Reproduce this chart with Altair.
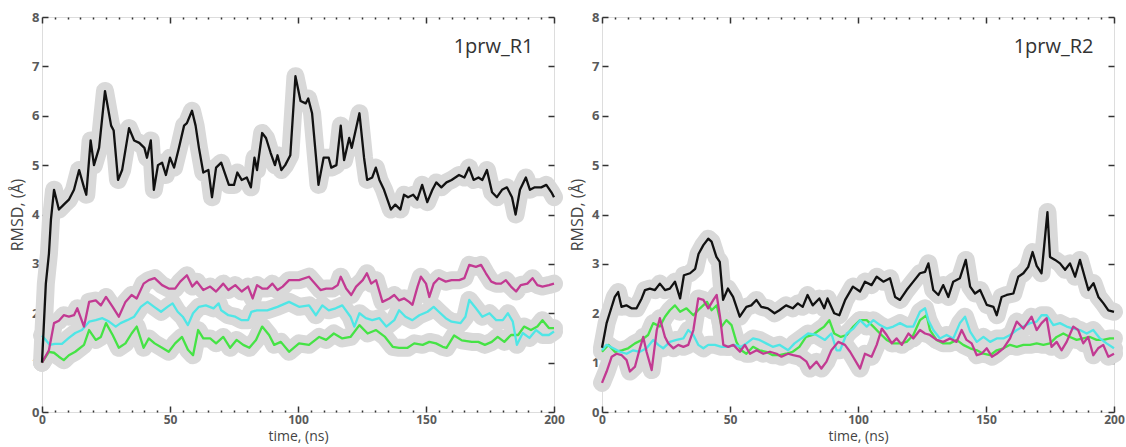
import altair as alt
import pandas as pd

# ---------------- data ----------------
# Panel 1prw_R1
r1_black_t = [0, 1.5, 2.7, 3.5, 4.7, 6.6, 8.5, 10.5, 12.5, 14.5, 16.4, 17.3, 19, 20.3, 22.3, 24.6, 27, 28, 29.7, 31.3,
              34, 36, 38, 40, 41, 42.5, 43.7, 45.3, 46.9, 48.4, 50, 51.6, 53.5, 55.5, 56.6, 58.6, 60, 61.3, 63, 65,
              66.4, 68, 70, 73, 75, 76.3, 78, 80, 81.6, 83, 84, 86, 87.5, 89.3, 91, 92, 93.5, 95, 97, 99,
              101, 103, 104, 105.5, 108, 110, 112, 113, 115, 116.7, 118, 120, 121, 124, 125.8, 127, 129, 130.4, 131.8, 133.6,
              136.3, 138, 140, 141.4, 143, 145, 146.6, 148.5, 150.5, 152.5, 154, 156, 158, 160, 162.9, 165, 166.8, 168.6, 170.5, 172,
              173.8, 175.8, 177.7, 179.7, 181.6, 183.6, 185, 186.7, 189, 190.6, 192.5, 195, 197, 199, 200]
r1_black_v = [1.0, 2.6, 3.2, 3.9, 4.5, 4.1, 4.2, 4.3, 4.5, 4.9, 4.55, 4.4, 5.5, 5.0, 5.35, 6.5, 5.8, 5.7, 4.7, 4.9,
              5.75, 5.5, 5.45, 5.35, 5.15, 5.5, 4.5, 5.0, 5.05, 4.8, 5.15, 4.95, 5.35, 5.8, 5.85, 6.1, 5.8, 5.35, 4.85, 4.9,
              4.35, 4.95, 5.05, 4.6, 4.6, 4.85, 4.7, 4.75, 4.55, 5.15, 4.9, 5.65, 5.55, 5.25, 5.0, 5.2, 4.9, 5.0, 5.2, 6.8,
              6.3, 6.25, 6.35, 6.05, 4.6, 5.15, 5.15, 4.95, 5.0, 5.8, 5.1, 5.55, 5.35, 6.05, 5.15, 4.7, 4.75, 4.95, 4.7, 4.5,
              4.1, 4.2, 4.1, 4.4, 4.35, 4.4, 4.3, 4.6, 4.25, 4.5, 4.65, 4.55, 4.65, 4.7, 4.8, 4.75, 4.95, 4.7, 4.75, 4.7,
              4.9, 4.45, 4.35, 4.5, 4.55, 4.35, 4.0, 4.5, 4.75, 4.5, 4.55, 4.55, 4.6, 4.45, 4.35]

r1_mag_t = [0, 2.7, 4.7, 6.6, 8.5, 10.5, 12.5, 13.8, 16.4, 18.4, 21, 23, 25, 27.6, 30, 32.6, 35, 37, 39.7, 41.7,
            44, 46.9, 49.5, 52, 54, 56.6, 58.7, 60.5, 63, 65.7, 68, 70.8, 72.8, 75.5, 78, 80.5, 82.3, 84, 86, 88,
            90, 92, 94, 96.5, 100.4, 104.3, 106, 108.8, 111, 113.5, 115.5, 116.7, 118.8, 120.8, 122.7, 125.3, 126.9, 128.6, 130.5, 133,
            135.7, 137.6, 139.5, 141.5, 143.4, 144.7, 146.7, 148, 150, 151.3, 153, 155, 157.7, 160, 163, 165, 166.9, 169.5, 171.5, 173.4,
            175.5, 177.4, 179.3, 181.2, 183.2, 185.2, 187, 189.6, 191.6, 193.5, 195.5, 198, 200]
r1_mag_v = [1.0, 1.25, 1.8, 1.85, 1.96, 1.93, 1.96, 2.1, 1.73, 2.23, 2.26, 2.16, 2.33, 2.13, 1.93, 2.23, 2.37, 2.3, 2.6, 2.67,
            2.71, 2.57, 2.5, 2.5, 2.64, 2.77, 2.54, 2.64, 2.47, 2.54, 2.44, 2.6, 2.47, 2.57, 2.44, 2.54, 2.3, 2.57, 2.5, 2.5,
            2.6, 2.47, 2.54, 2.67, 2.67, 2.74, 2.64, 2.47, 2.5, 2.5, 2.57, 2.74, 2.5, 2.37, 2.54, 2.67, 2.81, 2.6, 2.67, 2.23,
            2.3, 2.37, 2.26, 2.3, 2.23, 2.17, 2.54, 2.74, 2.6, 2.33, 2.6, 2.71, 2.64, 2.67, 2.67, 2.71, 2.98, 2.94, 2.98, 2.81,
            2.64, 2.6, 2.6, 2.67, 2.54, 2.44, 2.57, 2.6, 2.71, 2.57, 2.54, 2.57, 2.6]

r1_cyan_t = [0, 3, 5, 7.8, 10.5, 13, 15.6, 18.4, 21, 23.6, 26.2, 28.8, 30.7, 33.3, 36, 38.6, 41.2, 43.8, 46.5, 49,
             51, 53, 55, 57, 59, 61.3, 64, 67, 69, 70, 72.8, 75.5, 78, 80.5, 81.8, 84, 88, 92, 96.5, 100.4,
             104.3, 107, 109.5, 112, 114.7, 117.3, 120.5, 122, 124, 126.5, 129, 131.8, 134.5, 137.6, 139.5, 142, 144.7, 147.4, 150.6, 153,
             155, 157.7, 160, 163.5, 165.4, 166.9, 169.5, 172, 174.8, 177.4, 180, 182, 183.9, 185.5, 187.8, 190.4, 193, 195.5, 198, 200]
r1_cyan_v = [1.55, 1.36, 1.38, 1.38, 1.5, 1.6, 1.66, 1.83, 1.86, 1.9, 1.83, 1.73, 1.8, 1.86, 1.93, 2.13, 2.23, 2.13, 2.03, 2.13,
             2.2, 2.03, 1.93, 1.76, 2.0, 2.13, 2.16, 2.1, 2.2, 2.06, 1.96, 1.93, 1.86, 1.86, 2.03, 2.06, 2.06, 2.13, 2.23, 2.13,
             2.16, 1.96, 2.16, 2.06, 2.1, 2.16, 1.93, 1.73, 2.0, 1.9, 1.86, 1.9, 1.73, 1.86, 2.06, 1.93, 1.86, 1.96, 2.03, 2.13,
             2.03, 1.9, 1.83, 1.8, 1.93, 2.27, 2.1, 1.93, 2.0, 1.86, 1.86, 2.0, 1.83, 1.36, 1.6, 1.5, 1.66, 1.56, 1.56, 1.63]

r1_green_t = [0, 2.7, 4.7, 6.6, 8.5, 10.5, 13, 16.4, 18.4, 21, 23, 25, 27.6, 30, 32.6, 35, 37, 39.7, 41.7, 44,
              46.9, 49.5, 52, 54.7, 57, 59, 61, 63, 65.7, 68, 70.8, 73.5, 76, 78.6, 81, 83.6, 86, 88.7, 90.7, 93.3,
              96.5, 100.4, 104.3, 108.3, 111, 114, 117.3, 120.5, 124, 127.2, 130.5, 134, 137, 139.5, 142.8, 145.4, 148.7, 151.3, 153.9, 156.5,
              158, 161, 164, 167.9, 170.4, 173, 175.7, 178, 180.6, 183.2, 186, 188.3, 191, 193.5, 195.5, 198, 200]
r1_green_v = [1.0, 1.22, 1.2, 1.12, 1.05, 1.15, 1.22, 1.36, 1.66, 1.46, 1.52, 1.8, 1.56, 1.3, 1.39, 1.59, 1.73, 1.3, 1.49, 1.39,
              1.3, 1.22, 1.39, 1.52, 1.26, 1.15, 1.66, 1.49, 1.49, 1.39, 1.52, 1.3, 1.46, 1.36, 1.3, 1.46, 1.73, 1.56, 1.36, 1.42,
              1.22, 1.39, 1.36, 1.52, 1.46, 1.59, 1.49, 1.52, 1.76, 1.59, 1.66, 1.52, 1.32, 1.3, 1.3, 1.39, 1.36, 1.42, 1.39, 1.32,
              1.3, 1.55, 1.45, 1.42, 1.42, 1.36, 1.42, 1.52, 1.42, 1.56, 1.56, 1.73, 1.66, 1.73, 1.86, 1.7, 1.7]

# Panel 1prw_R2
r2_black_t = [0, 1.8, 3, 5, 6.3, 7.6, 9.5, 11.5, 13.5, 15.5, 16.8, 18.7, 20.7, 22.6, 24.6, 26.5, 28.5, 30.5, 32, 34.4,
              36.4, 37.7, 39.6, 41.5, 42.8, 44.7, 46, 47.3, 49.2, 51.2, 53.8, 56.4, 58.3, 60.3, 62.2, 64.8, 67.4, 69.3, 71.9, 74.5,
              76.5, 78.4, 80.3, 82.3, 84.9, 86.8, 88.1, 90.7, 92.7, 95, 98, 100.8, 102.7, 105.3, 107.3, 109.9, 112.5, 114.5, 116.4, 119,
              121.6, 124.2, 126.2, 127.5, 129.4, 131.4, 133.3, 135.3, 137.2, 139.8, 142.1, 143.8, 145.7, 147.7, 150.3, 152.9, 154.2, 156.1, 158.1, 160.7,
              162.6, 164.6, 166.5, 168.2, 169.8, 171.7, 174, 175, 177, 178.9, 180.9, 182.8, 184.8, 186.7, 188.7, 190, 192, 193.9, 195.9, 197.8, 200]
r2_black_v = [1.3, 1.8, 2.0, 2.33, 2.43, 2.13, 2.16, 2.1, 2.1, 2.3, 2.47, 2.5, 2.47, 2.6, 2.47, 2.5, 2.64, 2.3, 2.77, 2.81,
              2.9, 3.2, 3.38, 3.51, 3.45, 3.14, 3.04, 2.27, 2.5, 2.33, 1.93, 2.13, 2.16, 2.27, 2.13, 2.1, 2.0, 2.06, 2.16, 2.1,
              2.2, 2.13, 2.37, 2.16, 2.3, 2.1, 2.3, 2.0, 1.96, 2.27, 2.54, 2.44, 2.64, 2.57, 2.74, 2.64, 2.71, 2.33, 2.27, 2.47,
              2.64, 2.81, 2.84, 3.01, 2.47, 2.37, 2.57, 2.33, 2.64, 2.71, 3.08, 2.54, 2.4, 2.47, 2.17, 2.13, 1.96, 2.33, 2.37, 2.4,
              2.74, 2.81, 2.94, 3.24, 2.96, 2.81, 4.05, 3.14, 3.08, 3.01, 2.88, 3.01, 2.74, 3.08, 2.71, 2.47, 2.61, 2.33, 2.2, 2.06, 2.03]

r2_mag_t = [0, 1.8, 3.8, 5.7, 7.7, 9.6, 10.9, 12.9, 14.8, 16.1, 17.4, 19.4, 21.4, 22.6, 24.6, 25.9, 27.9, 29.8, 31.8, 33.7,
            35.7, 37.6, 39.6, 41.5, 43.5, 44.8, 46.1, 47.4, 49.3, 51.3, 53.9, 55.8, 57.8, 60.4, 63, 65.6, 68.2, 70.1, 72.7, 74.7,
            77.3, 79.9, 81.2, 83.8, 85.7, 87.7, 89.6, 92.3, 94.9, 96.9, 100.8, 102.7, 105.3, 107.3, 109.3, 111.2, 113.2, 115.1, 117.1, 119.7,
            121.6, 124.2, 126.2, 128.1, 130.7, 133.3, 135.9, 138.5, 140.5, 142.4, 144.4, 146.4, 148.3, 150.3, 152.3, 154.2, 156.8, 159.4, 162, 164.6,
            167.8, 169.8, 171.7, 173.7, 175.6, 177.6, 179.5, 181.5, 184.1, 186, 188, 189.9, 191.9, 193.8, 195.8, 197.8, 200]
r2_mag_v = [0.59, 0.82, 1.12, 1.18, 1.15, 1.05, 0.82, 0.92, 1.29, 1.52, 1.22, 0.85, 1.66, 1.9, 1.52, 1.39, 1.29, 1.36, 1.32, 1.36,
            1.66, 2.3, 2.27, 2.1, 2.27, 2.37, 1.93, 1.36, 1.32, 1.36, 1.22, 1.36, 1.18, 1.25, 1.18, 1.22, 1.18, 1.12, 1.18, 1.15,
            1.12, 1.02, 0.88, 1.02, 0.88, 1.02, 1.25, 1.42, 1.36, 1.22, 0.88, 1.18, 1.12, 1.36, 1.69, 1.56, 1.39, 1.49, 1.36, 1.59,
            1.49, 1.66, 1.59, 1.56, 1.46, 1.42, 1.49, 1.42, 1.66, 1.46, 1.39, 1.15, 1.18, 1.29, 1.12, 1.18, 1.29, 1.49, 1.83, 1.69,
            1.93, 1.66, 1.8, 1.9, 1.32, 1.42, 1.25, 1.42, 1.73, 1.66, 1.39, 1.52, 1.15, 1.29, 1.36, 1.12, 1.18]

r2_cyan_t = [0, 1.8, 4.4, 7, 9.6, 12.2, 14.8, 17.4, 20, 22, 23.9, 26.5, 29.1, 31.8, 33.7, 35.7, 37.6, 39.6, 41.5, 44.1,
             46.7, 49.3, 51.8, 54.4, 56.4, 59, 61.5, 64.1, 66.7, 69.3, 72.7, 75.2, 77.9, 80.5, 83.8, 87.1, 89.6, 91.6, 93, 95.6,
             98.2, 100.8, 103.4, 106, 108.6, 111.2, 113.8, 116.4, 119, 121.6, 124.2, 126.2, 127.5, 129.4, 132, 134.6, 137.2, 139.8, 141.8, 143.8,
             146.4, 149, 151.6, 154.2, 156.8, 159.4, 162, 164.6, 167.2, 169.8, 171.7, 173.7, 176.3, 178.9, 181.5, 184.1, 186.7, 189.3, 191.9, 194.5,
             197.1, 200]
r2_cyan_v = [1.25, 1.36, 1.29, 1.22, 1.18, 1.25, 1.22, 1.29, 1.46, 1.36, 1.29, 1.42, 1.46, 1.49, 1.66, 1.56, 1.36, 1.29, 1.36, 1.36,
             1.32, 1.32, 1.36, 1.32, 1.39, 1.49, 1.46, 1.39, 1.32, 1.36, 1.25, 1.39, 1.49, 1.59, 1.56, 1.46, 1.59, 1.25, 1.25, 1.59,
             1.69, 1.86, 1.73, 1.86, 1.76, 1.69, 1.73, 1.8, 1.73, 1.73, 2.03, 2.1, 1.86, 1.66, 1.49, 1.56, 1.49, 1.8, 1.93, 1.63,
             1.42, 1.52, 1.42, 1.49, 1.49, 1.56, 1.66, 1.73, 1.8, 1.83, 1.96, 1.96, 1.76, 1.8, 1.73, 1.69, 1.66, 1.59, 1.66, 1.49,
             1.39, 1.29]

r2_green_t = [0, 2.5, 5, 7.7, 10.2, 12.9, 15.5, 18, 20, 22.6, 24.6, 26.5, 28.5, 30.5, 33, 35.7, 38.3, 41, 42.8, 44.8,
              46.7, 48.6, 50.6, 52.5, 54.4, 56.4, 59, 61.5, 64.1, 66.7, 69.3, 71.9, 74.5, 77.1, 79.7, 82.3, 84.9, 86.8, 88.8, 90.7,
              93.3, 95.6, 98.2, 100.8, 103.4, 106, 108.6, 111.2, 113.8, 116.4, 119, 121.6, 124.2, 126.8, 128.1, 130.7, 133.3, 135.9, 138.5, 141.1,
              143.8, 146.4, 149, 151.6, 154.2, 156.8, 159.4, 162, 164.6, 167.2, 169.8, 172.4, 175, 177.6, 180.2, 182.8, 185.4, 188, 190.6, 193.2,
              195.8, 198.4, 200]
r2_green_v = [1.22, 1.36, 1.22, 1.25, 1.29, 1.39, 1.46, 1.56, 1.8, 1.73, 1.93, 2.06, 2.16, 2.03, 2.1, 1.96, 2.1, 2.23, 2.06, 2.16,
              1.73, 1.86, 1.76, 1.42, 1.25, 1.18, 1.32, 1.25, 1.22, 1.15, 1.15, 1.18, 1.22, 1.32, 1.52, 1.56, 1.66, 1.73, 1.86, 1.59,
              1.52, 1.56, 1.73, 1.86, 1.86, 1.73, 1.59, 1.46, 1.39, 1.39, 1.42, 1.56, 1.86, 1.96, 1.66, 1.46, 1.39, 1.39, 1.46, 1.36,
              1.29, 1.25, 1.18, 1.15, 1.25, 1.29, 1.36, 1.32, 1.36, 1.36, 1.39, 1.36, 1.39, 1.52, 1.59, 1.52, 1.46, 1.49, 1.52, 1.46,
              1.46, 1.49, 1.49]

series_names = ["green", "cyan", "magenta", "black"]
series_colors = ["#45e345", "#4fe6e6", "#c23a92", "#111111"]
x_major = [0, 50, 100, 150, 200]
x_minor = list(range(0, 201, 5))
y_ticks = [0, 1, 2, 3, 4, 5, 6, 7, 8]


def frame(parts):
    rows = []
    for name, ts, vs in parts:
        for t, v in zip(ts, vs):
            rows.append({"t": t, "v": v, "series": name})
    return pd.DataFrame(rows)


df1 = frame([("green", r1_green_t, r1_green_v), ("cyan", r1_cyan_t, r1_cyan_v),
             ("magenta", r1_mag_t, r1_mag_v), ("black", r1_black_t, r1_black_v)])
df2 = frame([("green", r2_green_t, r2_green_v), ("cyan", r2_cyan_t, r2_cyan_v),
             ("magenta", r2_mag_t, r2_mag_v), ("black", r2_black_t, r2_black_v)])

xs = alt.Scale(domain=[0, 200], nice=False, zero=False)
ys = alt.Scale(domain=[0, 8], nice=False, zero=False)
LBL = "#5a5a5a"
TCK = "#333333"
FONT = "Open Sans"


def panel(df, label, halo_w1, halo_w):
    sw = alt.StrokeWidth("series:N", scale=alt.Scale(domain=series_names,
                                                     range=[halo_w, halo_w, halo_w, halo_w1]), legend=None)
    # envelope of the raw (unsmoothed) trajectories
    soft = alt.Chart(df).mark_line(color="#d9d9d9", strokeJoin="round", strokeCap="round").encode(
        x=alt.X("t:Q", scale=xs, axis=alt.Axis(orient="bottom", values=x_major, ticks=False, domain=False,
                                               grid=False, labelPadding=2, labelFlush=False, labelOverlap=False,
                                               labelFontSize=12, labelColor=LBL, labelFont=FONT, labelFontWeight="bold",
                                               title="time, (ns)", titleFontSize=14, titleFont=FONT,
                                               titleFontWeight="normal", titleColor="#444444", titlePadding=4)),
        y=alt.Y("v:Q", scale=ys, axis=alt.Axis(orient="left", values=y_ticks, ticks=False, domain=False,
                                               grid=False, labelPadding=3, labelFlush=False, labelOverlap=False,
                                               labelFontSize=13, labelColor=LBL, labelFont=FONT, labelFontWeight="bold",
                                               title="RMSD, (Å)", titleFontSize=16, titleFont=FONT,
                                               titleFontWeight="normal", titleColor="#444444", titlePadding=6)),
        detail="series:N",
        strokeWidth=sw,
    )
    lines = alt.Chart(df).mark_line(strokeWidth=2.3, strokeJoin="round").encode(
        x=alt.X("t:Q", scale=xs, axis=alt.Axis(orient="bottom", values=x_minor, offset=-6, tickSize=6,
                                               tickWidth=1.5, tickColor=TCK, labels=False, domain=False,
                                               grid=False, title=None,
                                               tickDash={"condition": {"test": "datum.value % 50 !== 0",
                                                                       "value": [0, 4, 2, 0]},
                                                         "value": [6, 0]})),
        y=alt.Y("v:Q", scale=ys, axis=alt.Axis(orient="left", values=y_ticks, offset=-6, tickSize=6,
                                               tickWidth=1.5, tickColor=TCK, labels=False, domain=False,
                                               grid=False, title=None)),
        color=alt.Color("series:N", scale=alt.Scale(domain=series_names, range=series_colors), legend=None),
        detail="series:N",
    )
    text = alt.Chart(pd.DataFrame({"label": [label]})).mark_text(
        align="right", baseline="middle", fontSize=20, font=FONT, color="#333333"
    ).encode(
        x=alt.datum(192, scale=xs, axis=alt.Axis(orient="top", values=x_minor, offset=-6, tickSize=6,
                                                 tickWidth=1.5, tickColor=TCK, labels=False, domain=False,
                                                 grid=False, title=None,
                                                 tickDash={"condition": {"test": "datum.value % 50 !== 0",
                                                                         "value": [0, 4, 2, 0]},
                                                           "value": [6, 0]})),
        y=alt.datum(7.4, scale=ys, axis=alt.Axis(orient="right", values=y_ticks, offset=-6, tickSize=6,
                                                 tickWidth=1.5, tickColor=TCK, labels=False, domain=False,
                                                 grid=False, title=None)),
        text="label:N",
    )
    return alt.layer(soft, lines, text).resolve_axis(x="independent", y="independent").properties(
        width=512, height=395)


chart = alt.hconcat(panel(df1, "1prw_R1", 34, 18), panel(df2, "1prw_R2", 24, 18), spacing=4).properties(
    padding={"left": 9, "top": 10, "right": 0, "bottom": 0}
).configure_view(stroke="#333333", strokeWidth=1.5).configure(background="white")

chart.save("out.html", embed_options={"renderer": "svg", "actions": False})
